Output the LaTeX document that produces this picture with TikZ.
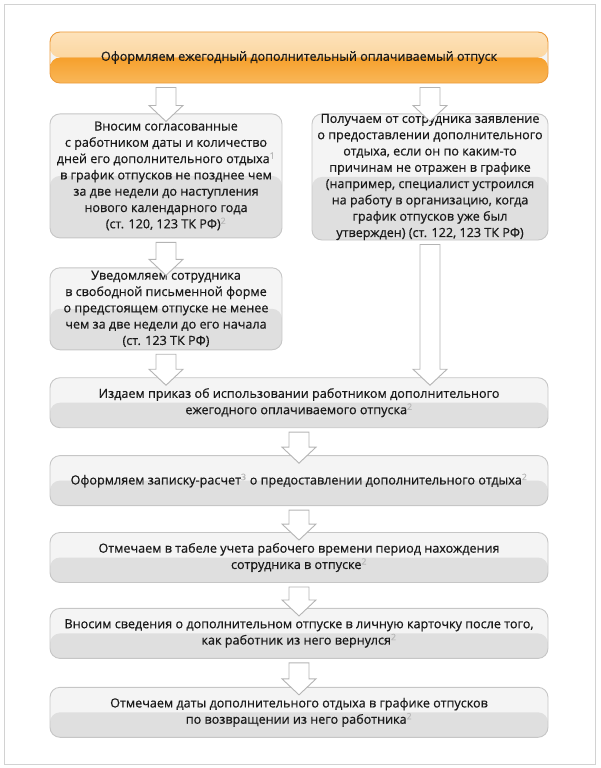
\documentclass[tikz,border=0pt]{standalone}
\usepackage{fontspec}
\setmainfont{Open Sans}[FakeBold=0.6]
\usetikzlibrary{positioning, calc}
\usepackage{xcolor}

\definecolor{boxline}{HTML}{C6C6C6}
\definecolor{boxhigh}{HTML}{F4F4F4}
\definecolor{boxlow}{HTML}{DFDFDF}
\definecolor{orangeline}{HTML}{EC9A3A}
\definecolor{orangetop}{HTML}{FDE2BA}
\definecolor{orangemid}{HTML}{FBCB88}
\definecolor{orangelow}{HTML}{F6A02C}
\definecolor{orangebot}{HTML}{F9B759}
\definecolor{arrowline}{HTML}{B4B4B4}
\definecolor{framegray}{HTML}{D2D2D2}
\definecolor{textdark}{HTML}{1A1A1A}

\newcommand{\fnote}[1]{\textsuperscript{\color{gray!55}#1}}

% hollow block arrow, from the first point down to the second
\newcommand{\blockarrow}[2]{%
    \draw [blockarrow] let \p1=(#1), \p2=(#2) in
        (\x1-10pt,\y1-4pt) -- (\x1-10pt,\y2+8pt) -- (\x1-17pt,\y2+8pt) -- (\x1,\y2-8pt)
        -- (\x1+17pt,\y2+8pt) -- (\x1+10pt,\y2+8pt) -- (\x1+10pt,\y1-4pt) -- cycle;}

\begin{document}
\begin{tikzpicture}[
        x=1pt, y=1pt,
        stepbox/.style={rectangle, rounded corners=10pt, draw=boxline, line width=0.9pt, fill=boxhigh, inner sep=0pt, align=center, text=textdark, font=\fontsize{12.6pt}{16.3pt}\selectfont,
            path picture={\fill[boxlow] (path picture bounding box.west) rectangle (path picture bounding box.south east);}},
        topbox/.style={stepbox, draw=orangeline,
            path picture={
                \shade[top color=orangetop, bottom color=orangemid] (path picture bounding box.north west) rectangle (path picture bounding box.east);
                \shade[top color=orangelow, bottom color=orangebot] (path picture bounding box.west) rectangle (path picture bounding box.south east);}},
        blockarrow/.style={draw=arrowline, fill=white, line width=0.9pt, line join=miter}
    ]

        \useasboundingbox (0,0) rectangle (600,-768);
        \draw [framegray, line width=0.7pt] (4,-4) rectangle (595,-764);

        % Start
        \node (top) [topbox, minimum width=498pt, minimum height=51pt] at (299,-57.5) {Оформляем ежегодный дополнительный оплачиваемый отпуск};

        % Two branches
        \node (schedule) [stepbox, minimum width=232pt, minimum height=124pt, below right=30pt and 0pt of top.south west] {Вносим согласованные\\ с работником даты и количество\\ дней его дополнительного отдыха\fnote{1}\\ в график отпусков не позднее чем\\ за две недели до наступления\\ нового календарного года\\ (ст. 120, 123 ТК РФ)\fnote{2}};
        \node (request) [stepbox, minimum width=236pt, minimum height=124pt, below left=30pt and 0pt of top.south east] {Получаем от сотрудника заявление\\ о предоставлении дополнительного\\ отдыха, если он по каким-то\\ причинам не отражен в графике\\ (например, специалист устроился\\ на работу в организацию, когда\\ график отпусков уже был\\ утвержден) (ст. 122, 123 ТК РФ)};
        \node (notice) [stepbox, minimum width=232pt, minimum height=82pt, below=29pt of schedule] {Уведомляем сотрудника\\ в свободной письменной форме\\ о предстоящем отпуске не менее\\ чем за две недели до его начала\\ (ст. 123 ТК РФ)};

        % Common steps
        \node (order) [stepbox, minimum width=498pt, minimum height=50pt, below right=27pt and 0pt of notice.south west] {Издаем приказ об использовании работником дополнительного\\ ежегодного оплачиваемого отпуска\fnote{2}};
        \node (calc) [stepbox, minimum width=498pt, minimum height=50pt, below=27pt of order] {Оформляем записку-расчет\fnote{3} о предоставлении дополнительного отдыха\fnote{2}};
        \node (timesheet) [stepbox, minimum width=498pt, minimum height=50pt, below=26pt of calc] {Отмечаем в табеле учета рабочего времени период нахождения\\ сотрудника в отпуске\fnote{2}};
        \node (card) [stepbox, minimum width=498pt, minimum height=50pt, below=25pt of timesheet] {Вносим сведения о дополнительном отпуске в личную карточку после того,\\ как работник из него вернулся\fnote{2}};
        \node (mark) [stepbox, minimum width=498pt, minimum height=50pt, below=28pt of card] {Отмечаем даты дополнительного отдыха в графике отпусков\\ по возвращении из него работника\fnote{2}};

        % Arrows
        \blockarrow{schedule.north |- top.south}{schedule.north}
        \blockarrow{request.north |- top.south}{request.north}
        \blockarrow{schedule.south}{notice.north}
        \blockarrow{request.south}{request.south |- order.north}
        \blockarrow{notice.south}{notice.south |- order.north}
        \blockarrow{order.south}{calc.north}
        \blockarrow{calc.south}{timesheet.north}
        \blockarrow{timesheet.south}{card.north}
        \blockarrow{card.south}{mark.north}

    \end{tikzpicture}
\end{document}
